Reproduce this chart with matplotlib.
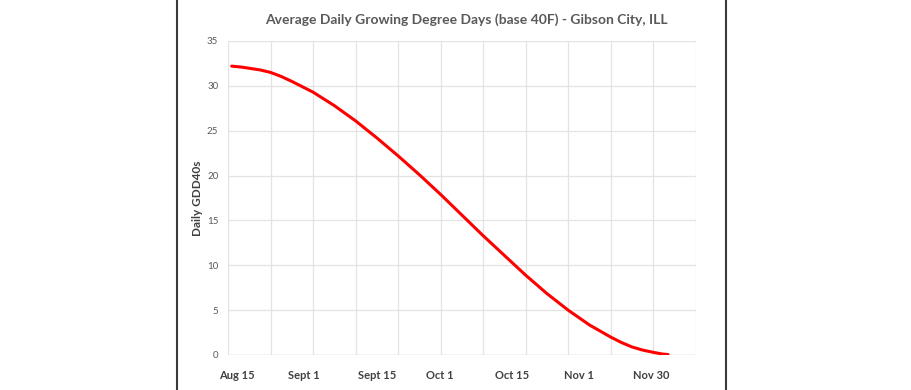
import matplotlib

matplotlib.use("Agg")
import matplotlib.pyplot as plt
from matplotlib.lines import Line2D

# curve; x is in gridline units (0..11)
pos = [0.087, 0.3, 0.5, 0.75, 1.0, 1.25, 1.5, 2.0, 2.5, 3.0, 3.5, 4.0, 4.5, 5.0, 5.5,
       6.0, 6.5, 7.0, 7.5, 8.0, 8.5, 9.0, 9.25, 9.5, 9.75, 10.0, 10.2, 10.35]
gdd = [32.2, 32.1, 31.96, 31.78, 31.5, 31.05, 30.5, 29.3, 27.8, 26.1, 24.2, 22.2, 20.1,
       17.9, 15.6, 13.3, 11.1, 8.9, 6.85, 5.0, 3.35, 2.0, 1.4, 0.9, 0.55, 0.3, 0.12, 0.05]

date_labels = ["Aug 15", "Sept 1", "Sept 15", "Oct 1", "Oct 15", "Nov 1", "Nov 30"]
date_pos = [0.205, 1.787, 3.497, 4.986, 6.68, 8.255, 9.95]
y_ticks = [0, 5, 10, 15, 20, 25, 30, 35]

plt.rcParams["font.family"] = ["Lato", "DejaVu Sans"]

W, H = 912, 390
fig = plt.figure(figsize=(W / 100, H / 100), dpi=100)
ax = fig.add_axes([228 / W, 1 - 355 / H, (695.7 - 228) / W, (355 - 41) / H])

ax.plot(pos, gdd, color="#ff0000", linewidth=2.2, solid_capstyle="round",
        solid_joinstyle="round", zorder=3)

ax.set_xlim(0, 11)
ax.set_ylim(0, 35)
ax.set_xticks(range(12))
ax.set_xticklabels([])
ax.set_yticks(y_ticks)
ax.set_yticklabels([str(v) for v in y_ticks], fontsize=7, color="#595959")
ax.tick_params(length=0, pad=7)
ax.grid(True, color="#e3e3e3", linewidth=0.9)
for sp in ax.spines.values():
    sp.set_visible(False)
ax.axhline(0, color="#d9d9d9", linewidth=1.0)

for lbl, p in zip(date_labels, date_pos):
    ax.text(p, -1.7, lbl, ha="center", va="top", fontsize=8, fontweight="bold",
            color="#404040")

ax.set_ylabel("Daily GDD40s", fontsize=8.5, fontweight="bold", color="#404040")
ax.yaxis.set_label_coords(-0.053, 0.5)
fig.text(466 / W, 1 - 20 / H,
         "Average Daily Growing Degree Days (base 40F) - Gibson City, ILL",
         ha="center", va="center", fontsize=10, fontweight="bold", color="#595959")

# chart frame edges
for xp in (177.5, 726):
    fig.add_artist(Line2D([xp / W, xp / W], [0, 1], color="#3a3a3a", linewidth=1.5))

fig.savefig("out.png", dpi=100, facecolor="white")
